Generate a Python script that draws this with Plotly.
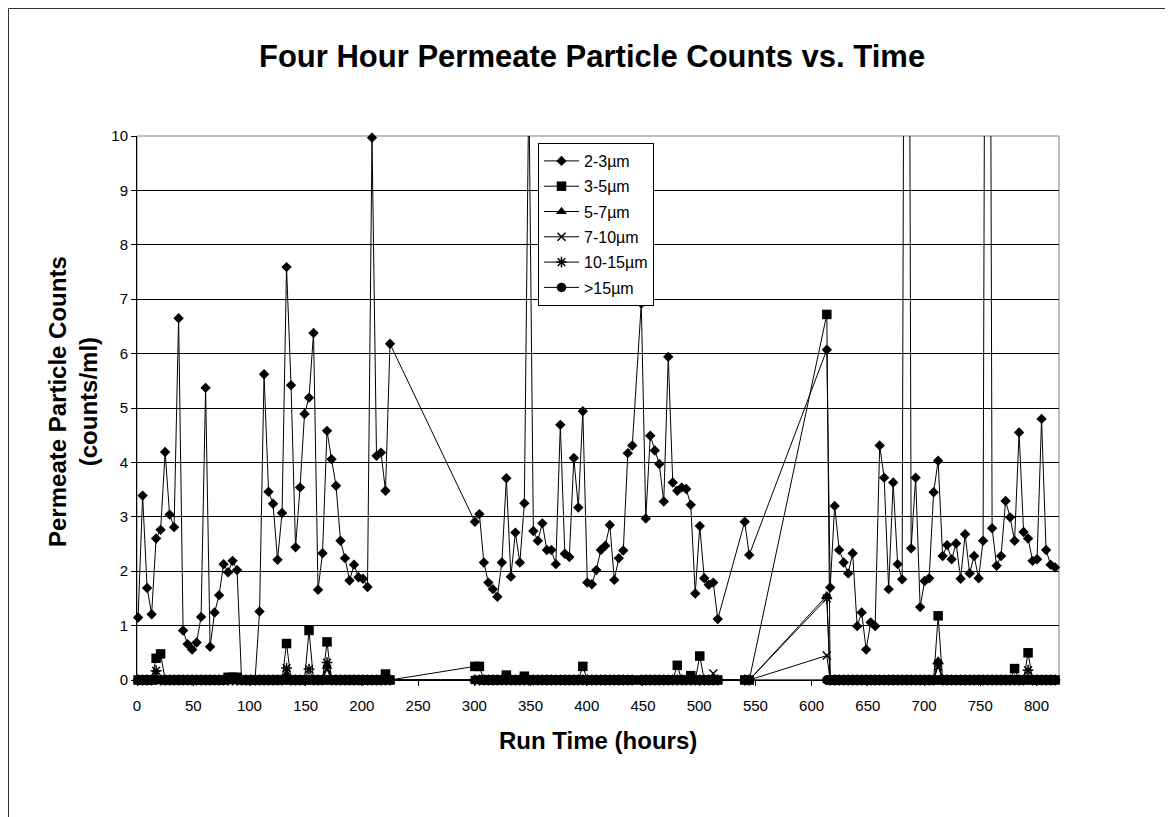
import plotly.graph_objects as go

# ---------------- data ----------------
hours = [
    1, 5, 9, 13, 17, 21, 25, 29, 33, 37, 41, 45, 49, 53, 57, 61, 65, 69, 73, 77,
    81, 85, 89, 93, 97, 101, 105, 109, 113, 117, 121, 125, 129, 133, 137, 141,
    145, 149, 153, 157, 161, 165, 169, 173, 177, 181, 185, 189, 193, 197, 201,
    205, 209, 213, 217, 221, 225,
    300.5, 304.5, 308.5, 312.5, 316.5, 320.5, 324.5, 328.5, 332.5, 336.5, 340.5,
    344.5, 348.5, 352.5, 356.5, 360.5, 364.5, 368.5, 372.5, 376.5, 380.5, 384.5,
    388.5, 392.5, 396.5, 400.5, 404.5, 408.5, 412.5, 416.5, 420.5, 424.5, 428.5,
    432.5, 436.5, 440.5, 448.5, 452.5, 456.5, 460.5, 464.5, 468.5, 472.5, 476.5,
    480.5, 484.5, 488.5, 492.5, 496.5, 500.5, 504.5, 508.5, 512.5, 516.5,
    540.5, 544.5,
    613.5, 616.5, 620.5, 624.5, 628.5, 632.5, 636.5, 640.5, 644.5, 648.5, 652.5,
    656.5, 660.5, 664.5, 668.5, 672.5, 676.5, 680.5, 684.5, 688.5, 692.5, 696.5,
    700.5, 704.5, 708.5, 712.5, 716.5, 720.5, 724.5, 728.5, 732.5, 736.5, 740.5,
    744.5, 748.5, 752.5, 756.5, 760.5, 764.5, 768.5, 772.5, 776.5, 780.5, 784.5,
    788.5, 792.5, 796.5, 800.5, 804.5, 808.5, 812.5, 816.5,
]

counts_2_3 = [
    1.15, 3.39, 1.69, 1.21, 2.60, 2.76, 4.19, 3.04, 2.81, 6.65, 0.91, 0.66, 0.56,
    0.69, 1.16, 5.37, 0.61, 1.24, 1.56, 2.13, 1.98, 2.19, 2.02, 0, 0, 0, 0, 1.26,
    5.62, 3.46, 3.24, 2.21, 3.07, 7.59, 5.42, 2.44, 3.54, 4.89, 5.19, 6.38, 1.66,
    2.33, 4.58, 4.06, 3.57, 2.56, 2.24, 1.83, 2.12, 1.89, 1.86, 1.71, 9.97, 4.12,
    4.18, 3.48, 6.18,
    2.91, 3.05, 2.16, 1.79, 1.67, 1.53, 2.16, 3.71, 1.90, 2.71, 2.16, 3.25, 11.0,
    2.74, 2.56, 2.88, 2.39, 2.39, 2.13, 4.69, 2.32, 2.26, 4.08, 3.17, 4.94, 1.79,
    1.76, 2.02, 2.39, 2.47, 2.85, 1.84, 2.24, 2.38, 4.17, 4.31, 6.92, 2.97, 4.49,
    4.22, 3.97, 3.28, 5.94, 3.63, 3.48, 3.54, 3.51, 3.22, 1.59, 2.83, 1.87, 1.75,
    1.79, 1.12,
    2.91, 2.30,
    6.07, 1.70, 3.20, 2.39, 2.16, 1.96, 2.33, 0.99, 1.24, 0.56, 1.06, 0.99, 4.31,
    3.72, 1.67, 3.63, 2.13, 1.85, 30.0, 2.42, 3.72, 1.34, 1.82, 1.87, 3.45, 4.03,
    2.28, 2.48, 2.22, 2.51, 1.86, 2.68, 1.96, 2.28, 1.87, 2.56, 30.0, 2.79, 2.10,
    2.28, 3.29, 2.99, 2.56, 4.55, 2.72, 2.60, 2.19, 2.22, 4.80, 2.39, 2.12, 2.07,
]

# the smaller size classes sit at 0 except at these read-off hours
nonzero_3_5 = {17: 0.40, 21: 0.48, 81: 0.05, 85: 0.05, 89: 0.05, 133: 0.67,
               153: 0.91, 169: 0.70, 221: 0.11, 300.5: 0.25, 304.5: 0.25,
               328.5: 0.09, 344.5: 0.07, 396.5: 0.25, 480.5: 0.27, 492.5: 0.08,
               500.5: 0.44, 613.5: 6.72, 712.5: 1.18, 780.5: 0.21, 792.5: 0.50}
nonzero_5_7 = {133: 0.10, 169: 0.25, 613.5: 1.55, 712.5: 0.35}
nonzero_7_10 = {17: 0.10, 169: 0.20, 512.5: 0.12, 613.5: 0.45, 712.5: 0.25}
nonzero_10_15 = {17: 0.17, 133: 0.22, 153: 0.20, 169: 0.32, 613.5: 1.50,
                 712.5: 0.30, 792.5: 0.18}
nonzero_gt15 = {}

series_names = ["2-3µm", "3-5µm", "5-7µm", "7-10µm", "10-15µm", ">15µm"]
x_ticks = [0, 50, 100, 150, 200, 250, 300, 350, 400, 450, 500, 550, 600, 650,
           700, 750, 800]
y_ticks = [0, 1, 2, 3, 4, 5, 6, 7, 8, 9, 10]


def expand(nonzero):
    return [nonzero.get(h, 0.0) for h in hours]


series_values = [counts_2_3, expand(nonzero_3_5), expand(nonzero_5_7),
                 expand(nonzero_7_10), expand(nonzero_10_15), expand(nonzero_gt15)]

# ---------------- styling ----------------
FONT = "Liberation Sans, Arial, Helvetica, sans-serif"
marker_styles = [
    dict(symbol="diamond", size=8, color="black", line=dict(width=0)),
    dict(symbol="square", size=9.5, color="black", line=dict(width=0)),
    dict(symbol="triangle-up", size=9.5, color="black", line=dict(width=0)),
    dict(symbol="x-thin-open", size=8, color="black", line=dict(width=1.5, color="black")),
    dict(symbol="asterisk-open", size=9, color="black", line=dict(width=1.5, color="black")),
    dict(symbol="circle", size=9.5, color="black", line=dict(width=0)),
]

fig = go.Figure()
for i, (name, ys) in enumerate(zip(series_names, series_values)):
    fig.add_trace(go.Scatter(
        x=hours, y=ys, mode="lines+markers", name=name,
        line=dict(color="black", width=1),
        marker=marker_styles[i],
        cliponaxis=False,
        legendgroup=name,
    ))

L, R, T, B = 137, 114, 136, 137
W, H = 1173, 817
pw, ph = W - L - R, H - T - B


def px(xp):
    return (xp - L) / pw


def py(yp):
    return (H - B - yp) / ph


fig.update_layout(
    width=W, height=H,
    margin=dict(l=L, r=R, t=T, b=B, pad=0),
    paper_bgcolor="white", plot_bgcolor="white",
    font=dict(family=FONT, color="black", size=15),
    showlegend=True,
    legend=dict(x=px(538), y=py(143), xanchor="left", yanchor="top",
                bordercolor="black", borderwidth=1, bgcolor="white",
                font=dict(size=16, family=FONT), itemwidth=35,
                tracegroupgap=1.5, traceorder="grouped"),
    xaxis=dict(range=[0, 820], tickvals=x_ticks, showgrid=False, zeroline=False,
               showline=True, linecolor="black", linewidth=1,
               ticks="outside", ticklen=5, tickcolor="black",
               tickfont=dict(size=15), ticklabelstandoff=7),
    yaxis=dict(range=[0, 10], tickvals=y_ticks, showgrid=True,
               gridcolor="black", gridwidth=1, zeroline=False,
               showline=True, linecolor="black", linewidth=1,
               ticks="outside", ticklen=5, tickcolor="black",
               tickfont=dict(size=15)),
    shapes=[
        # plot-area border
        dict(type="rect", xref="paper", yref="paper", x0=0, y0=0, x1=1, y1=1,
             line=dict(color="#808080", width=1), layer="below"),
        # outer chart frame (left and top edges visible)
        dict(type="line", xref="paper", yref="paper", x0=px(8.5), x1=px(8.5),
             y0=py(8.5), y1=py(830), line=dict(color="#333333", width=1)),
        dict(type="line", xref="paper", yref="paper", x0=px(8.5), x1=px(1165),
             y0=py(8.5), y1=py(8.5), line=dict(color="#333333", width=1)),
    ],
    annotations=[
        dict(text="<b>Four Hour Permeate Particle Counts vs. Time</b>",
             xref="paper", yref="paper", x=px(592), y=py(57),
             xanchor="center", yanchor="middle", showarrow=False,
             font=dict(size=31, family=FONT)),
        dict(text="<b>Run Time (hours)</b>", xref="paper", yref="paper",
             x=px(598), y=py(740), xanchor="center", yanchor="middle",
             showarrow=False, font=dict(size=24, family=FONT)),
        dict(text="<b>Permeate Particle Counts<br>(counts/ml)</b>",
             xref="paper", yref="paper", x=px(73), y=py(402),
             xanchor="center", yanchor="middle", showarrow=False,
             textangle=-90, font=dict(size=24, family=FONT)),
    ],
)

fig.write_html("out.html", config={"displayModeBar": False},
               post_script="document.body.style.margin='0';document.body.style.overflow='hidden';")
